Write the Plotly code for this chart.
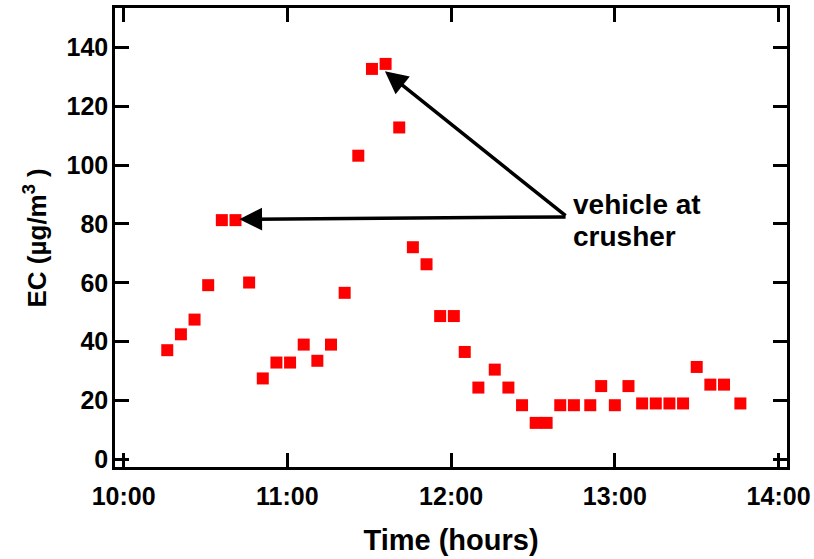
import plotly.graph_objects as go

# ---- data ----
times = ["10:16", "10:21", "10:26", "10:31", "10:36", "10:41", "10:46", "10:51",
         "10:56", "11:01", "11:06", "11:11", "11:16", "11:21", "11:26", "11:31",
         "11:36", "11:41", "11:46", "11:51", "11:56", "12:01", "12:05", "12:10",
         "12:16", "12:21", "12:26", "12:31", "12:35", "12:40", "12:45", "12:51",
         "12:55", "13:00", "13:05", "13:10", "13:15", "13:20", "13:25", "13:30",
         "13:35", "13:40", "13:46"]
ec_values = [37.1, 42.5, 47.5, 59.2, 81.3, 81.3, 60.1, 27.5, 32.9, 32.9, 39.0,
             33.5, 39.0, 56.6, 103.2, 132.7, 134.4, 112.8, 72.1, 66.3, 48.7,
             48.7, 36.5, 24.4, 30.5, 24.4, 18.4, 12.4, 12.4, 18.4, 18.4, 18.4,
             24.9, 18.4, 24.9, 19.0, 19.0, 19.0, 19.0, 31.4, 25.4, 25.4, 19.0]
x_tick_labels = ["10:00", "11:00", "12:00", "13:00", "14:00"]
y_ticks = [0, 20, 40, 60, 80, 100, 120, 140]

DAY = "2000-01-01 "
x = [DAY + t for t in times]
x_ticks = [DAY + t for t in x_tick_labels]

FONT = "Liberation Sans, Arial, Helvetica, sans-serif"

fig = go.Figure()
fig.add_trace(go.Scatter(
    x=x, y=ec_values, mode="markers",
    marker=dict(symbol="square", size=12, color="#ff0000", line=dict(width=0)),
    showlegend=False,
))

axis_common = dict(
    showline=True, linecolor="black", linewidth=2.5, mirror="ticks",
    ticks="inside", ticklen=14, tickwidth=2.5, tickcolor="black",
    showgrid=False, zeroline=False, automargin=False,
    tickfont=dict(family=FONT, size=25, color="black", weight="bold"),
)

fig.update_layout(
    width=814, height=559,
    margin=dict(l=115, r=27, t=8, b=92),
    paper_bgcolor="white", plot_bgcolor="white",
    xaxis=dict(
        type="date",
        range=[DAY + "09:56:51", DAY + "14:03:05"],
        tickvals=x_ticks, ticktext=x_tick_labels,
        ticklabelstandoff=5,
        title=dict(text="Time (hours)", standoff=21,
                   font=dict(family=FONT, size=29, color="black", weight="bold")),
        **axis_common,
    ),
    yaxis=dict(
        range=[-2.6, 153.4],
        tickvals=y_ticks,
        ticklabelstandoff=-1,
        **axis_common,
    ),
)

# y-axis title as a rotated paper annotation for exact placement
fig.add_annotation(
    xref="paper", yref="paper", x=-0.1176, y=0.5, xanchor="center", yanchor="middle",
    text="EC (µg/m<sup>3</sup> )", textangle=-90, showarrow=False,
    font=dict(family=FONT, size=26, color="black", weight="bold"),
)

tail_x = DAY + "12:42:30"
tail_y = 82.4
arrow_style = dict(showarrow=True, arrowhead=2, arrowsize=1.3, arrowwidth=3.5,
                   arrowcolor="black", axref="x", ayref="y", text="", standoff=0)
fig.add_annotation(x=DAY + "11:35:45", y=131.9, ax=tail_x, ay=tail_y, **arrow_style)
fig.add_annotation(x=DAY + "10:42:24", y=81.6, ax=tail_x, ay=tail_y, **arrow_style)

label_font = dict(family=FONT, size=28, color="black", weight="bold")
fig.add_annotation(x=DAY + "12:44:00", y=86.6, text="vehicle at", showarrow=False,
                   xanchor="left", yanchor="middle", font=label_font)
fig.add_annotation(x=DAY + "12:44:00", y=75.7, text="crusher", showarrow=False,
                   xanchor="left", yanchor="middle", font=label_font)

# remove the browser's default 8px body margin so the figure fills the window
fig.write_html("out.html", config={"displayModeBar": False},
               post_script="document.body.style.margin='0';")
